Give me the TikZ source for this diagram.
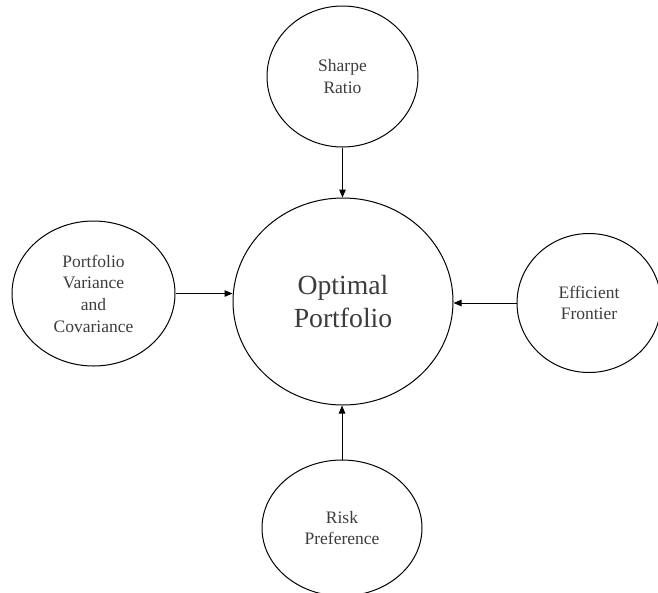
\documentclass[tikz,border=0pt]{standalone}
\usepackage{fontspec}
\setmainfont{Liberation Serif}
\usetikzlibrary{positioning, shapes.geometric, arrows.meta}
\definecolor{mytext}{RGB}{60,60,60}

\begin{document}
\begin{tikzpicture}[
   every node/.style      = {font=\fontsize{17.5}{21.7}\selectfont, text=mytext},
    node distance           = 52pt and 58pt,
         mainNode/.style    = {ellipse, draw, line width=1pt, align=center, inner sep=0pt,
                               minimum width=220pt, minimum height=207pt,
                               font=\fontsize{27.7}{33}\selectfont},
         factorNode/.style  = {ellipse, draw, line width=1pt, align=center, inner sep=0pt},
         myarrow/.style     = {line width=1pt, -{Triangle[length=8pt, width=6.5pt]}}
]

\useasboundingbox (0,0) rectangle (658pt,-592pt);

\node[mainNode] (optimal) at (343pt,-301.5pt) {Optimal\\Portfolio};

\node[factorNode, above=of optimal, yshift=-2pt, xshift=-0.5pt,
      minimum width=151pt, minimum height=141pt] (sharpe) {Sharpe\\Ratio};
\node[factorNode, below=of optimal, yshift=-2pt, xshift=-1pt,
      minimum width=160pt, minimum height=136pt] (risk) {Risk\\Preference};
\node[factorNode, left=of optimal, yshift=8pt, xshift=1pt,
      minimum width=163pt, minimum height=145pt] (variance) {Portfolio\\Variance\\and\\Covariance};
\node[factorNode, right=of optimal, yshift=-1.5pt, xshift=5pt,
      minimum width=144pt, minimum height=139pt] (frontier) {Efficient\\Frontier};

\draw[myarrow] (sharpe.south) -- (sharpe.south |- optimal.north);
\draw[myarrow] (risk.north) -- (risk.north |- optimal.south);
\draw[myarrow] (variance.east) -- (variance.east -| optimal.west);
\draw[myarrow] (frontier.west) -- (frontier.west -| optimal.east);

\end{tikzpicture}
\end{document}
